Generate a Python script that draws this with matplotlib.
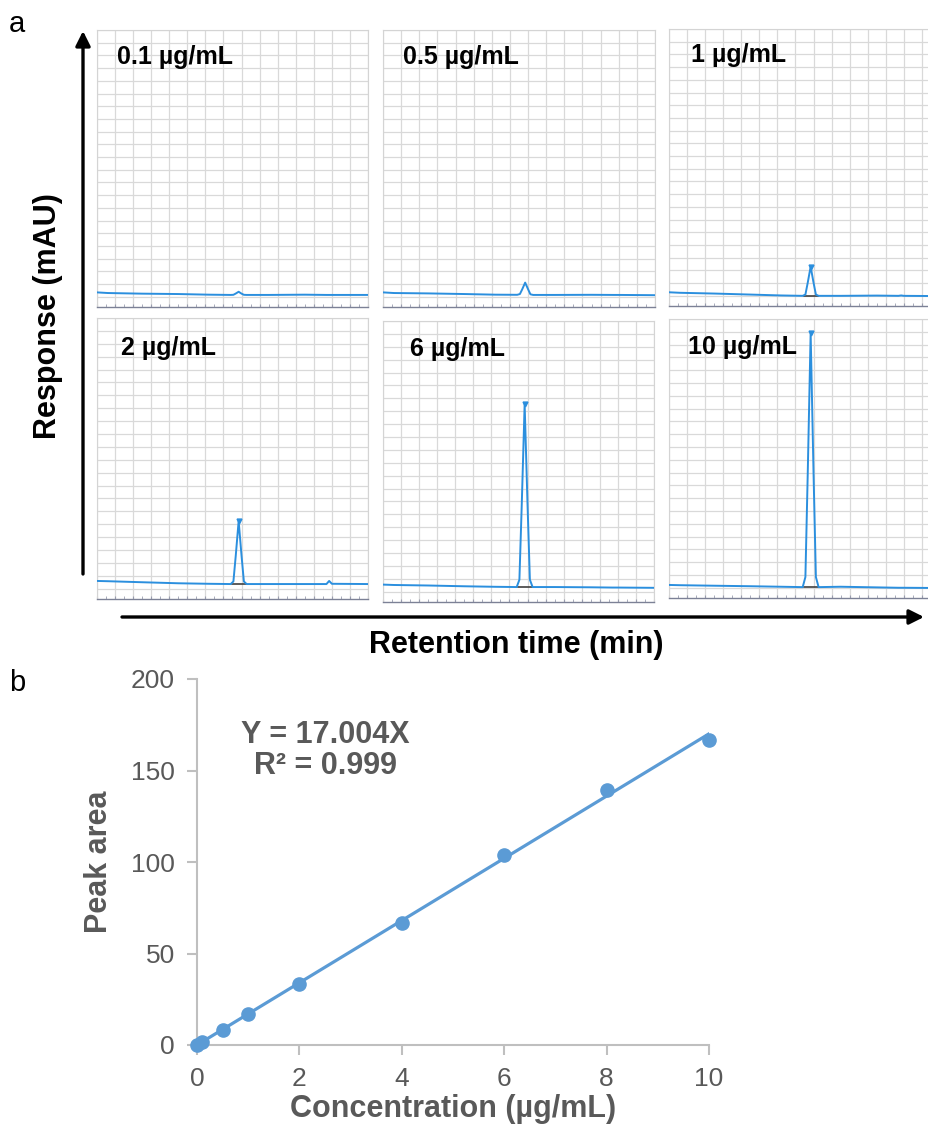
import matplotlib
matplotlib.use('Agg')
import matplotlib.pyplot as plt
from matplotlib.ticker import MultipleLocator

plt.rcParams['font.family'] = ['Liberation Sans', 'DejaVu Sans']

W, H = 929, 1133  # figure size in pixels

# ---- data: panel a (chromatograms) ----
conc_labels = ['0.1 µg/mL', '0.5 µg/mL', '1 µg/mL', '2 µg/mL', '6 µg/mL', '10 µg/mL']
time_min = [0.0, 0.6, 2.5, 4.5, 6.2, 7.40, 7.55, 7.68, 7.84, 8.00, 8.13, 8.28,
            9.5, 11.5, 12.7, 12.85, 13.0, 15.0]
resp_01 = [0.35, 0.30, 0.25, 0.22, 0.17, 0.15, 0.16, 0.26, 0.40, 0.25, 0.16, 0.15,
           0.15, 0.17, 0.15, 0.15, 0.15, 0.15]
resp_05 = [0.35, 0.30, 0.27, 0.22, 0.17, 0.16, 0.22, 0.60, 1.12, 0.60, 0.20, 0.15,
           0.15, 0.16, 0.15, 0.15, 0.15, 0.13]
resp_1 = [0.28, 0.24, 0.18, 0.10, 0.03, 0.0, 0.10, 1.04, 2.30, 1.04, 0.10, 0.0,
          0.0, 0.02, 0.0, 0.03, 0.0, -0.02]
resp_2 = [0.60, 0.58, 0.50, 0.42, 0.38, 0.36, 0.56, 2.56, 5.25, 2.56, 0.56, 0.36,
          0.36, 0.36, 0.36, 0.60, 0.38, 0.36]
resp_6 = [0.55, 0.52, 0.48, 0.42, 0.38, 0.36, 0.93, 6.75, 14.55, 6.75, 0.93, 0.36,
          0.36, 0.34, 0.32, 0.32, 0.32, 0.30]
resp_10 = [0.22, 0.20, 0.16, 0.12, 0.08, 0.05, 0.84, 8.98, 19.90, 8.98, 0.84, 0.05,
           0.08, 0.03, 0.0, 0.0, 0.0, -0.02]
responses = [resp_01, resp_05, resp_1, resp_2, resp_6, resp_10]
peak_time = 7.84
integ_start, integ_end = 7.45, 8.25
show_integration = [False, False, True, True, True, True]

# ---- data: panel b (calibration) ----
conc = [0, 0.1, 0.5, 1, 2, 4, 6, 8, 10]
peak_area = [0, 1.8, 8.3, 16.8, 33.4, 66.4, 104.0, 139.5, 166.6]
slope = 17.004

# ---- layout (pixels: left, top, width, height) ----
panel_px = [(97, 30, 271, 277), (383, 30, 272, 277), (669, 29, 271, 277),
            (97, 318, 271, 281), (383, 321, 271, 281), (669, 319, 271, 279)]
label_dx = [20, 20, 22, 24, 27, 19]
label_dy = [27, 27, 26, 30, 28, 28]

trace_blue = '#2b8fde'
grid_gray = '#d9d9d9'

fig = plt.figure(figsize=(W / 100, H / 100), dpi=100)


def px_axes(l, t, w, h, **kw):
    return fig.add_axes([l / W, 1 - (t + h) / H, w / W, h / H], **kw)


for i, (l, t, w, h) in enumerate(panel_px):
    ax = px_axes(l, t, w, h)
    ax.set_xlim(0, 15)
    ax.set_ylim(-0.8, 21)
    ax.xaxis.set_major_locator(MultipleLocator(1))
    ax.xaxis.set_minor_locator(MultipleLocator(0.5))
    ax.yaxis.set_major_locator(MultipleLocator(1))
    ax.grid(True, which='major', color=grid_gray, lw=0.9)
    ax.set_axisbelow(True)
    ax.tick_params(axis='x', which='both', direction='in', length=2.5, color='#9a9eb0',
                   labelbottom=False)
    ax.tick_params(axis='y', which='both', length=0, labelleft=False)
    for side in ['top', 'left', 'right']:
        ax.spines[side].set_color('#d4d4d4')
        ax.spines[side].set_linewidth(0.8)
    ax.spines['bottom'].set_color('#7c8196')
    ax.spines['bottom'].set_linewidth(1.0)
    ax.plot(time_min, responses[i], color=trace_blue, lw=1.4, zorder=3)
    if show_integration[i]:
        ax.plot([integ_start, integ_end], [responses[i][5], responses[i][11]],
                color='#404040', lw=1.2, zorder=2)
        ax.plot([peak_time], [max(responses[i])], marker='v', ms=3.5,
                color=trace_blue, zorder=4)
    ax.text(label_dx[i] / w, 1 - label_dy[i] / h, conc_labels[i], transform=ax.transAxes,
            fontsize=18, fontweight='bold', color='black', ha='left', va='center')

# overlay for arrows and panel letters (pixel coordinates)
ov = fig.add_axes([0, 0, 1, 1], facecolor='none')
ov.set_xlim(0, W)
ov.set_ylim(H, 0)
ov.axis('off')
arrow = dict(arrowstyle='-|>', lw=2.4, color='black', mutation_scale=22,
             shrinkA=0, shrinkB=0)
ov.annotate('', xy=(83, 31), xytext=(83, 574), arrowprops=arrow)
ov.annotate('', xy=(924, 617), xytext=(122, 617), arrowprops=arrow)
ov.text(48, 316, 'Response (mAU)', rotation=90, ha='center', va='center',
        fontsize=22, fontweight='bold')
ov.text(516, 645, 'Retention time (min)', ha='center', va='center',
        fontsize=22, fontweight='bold')
ov.text(9, 24, 'a', ha='left', va='center', fontsize=21)
ov.text(9, 683, 'b', ha='left', va='center', fontsize=21)

# ---- panel b ----
axb = px_axes(197, 679, 512, 366)
gray_txt = '#595959'
spine_gray = '#bfbfbf'
axb.plot([0, 10], [0, slope * 10], color='#5b9bd5', lw=2.3, zorder=2)
axb.plot(conc, peak_area, 'o', color='#5b9bd5', ms=9.5, zorder=3, clip_on=False)
axb.set_xlim(0, 10)
axb.set_ylim(0, 200)
axb.set_xticks([0, 2, 4, 6, 8, 10])
axb.set_yticks([0, 50, 100, 150, 200])
for side in ['top', 'right']:
    axb.spines[side].set_visible(False)
for side in ['left', 'bottom']:
    axb.spines[side].set_color(spine_gray)
    axb.spines[side].set_linewidth(1.5)
axb.tick_params(direction='out', length=7, width=1.5, color=spine_gray,
                labelsize=19, labelcolor=gray_txt, pad=9)
axb.set_xlabel('Concentration (µg/mL)', fontsize=22, fontweight='bold',
               color=gray_txt, labelpad=2)
axb.set_ylabel('Peak area', fontsize=22, fontweight='bold', color=gray_txt, labelpad=12)
axb.text(2.5, 161, 'Y = 17.004X\nR² = 0.999', ha='center', va='center',
         fontsize=22, fontweight='bold', color=gray_txt, linespacing=1.05)

fig.savefig('out.png', dpi=100)
